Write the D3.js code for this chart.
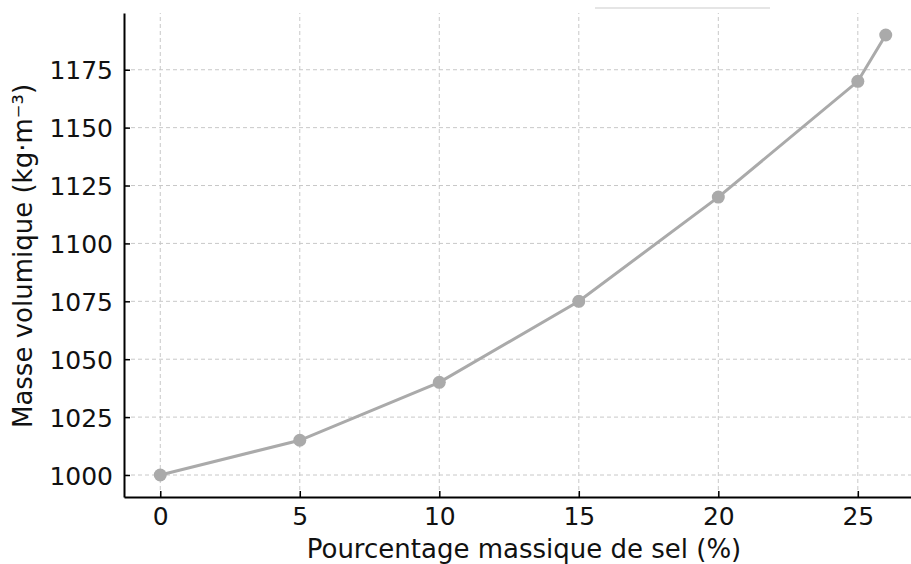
<!DOCTYPE html>
<html>
<head>
<meta charset="utf-8">
<script src="https://cdn.jsdelivr.net/npm/d3@7"></script>
<style>
  body { margin: 0; background: #fff; }
  svg { display: block; font-family: "DejaVu Sans", sans-serif; }
</style>
</head>
<body>
<svg id="chart" width="911" height="564"></svg>
<script>
// values
const saltPct = [0, 5, 10, 15, 20, 25, 26]
const density = [1000, 1015, 1040, 1075, 1120, 1170, 1190]
const xTicks = [0, 5, 10, 15, 20, 25]
const yTicks = [1000, 1025, 1050, 1075, 1100, 1125, 1150, 1175]

const width = 911
const height = 564
const margin = { top: 13, right: -11, bottom: 67, left: 124 }
const svg = d3.select('#chart')

const x = d3.scaleLinear()
    .domain([-1.3, 27.3])
    .range([margin.left, width - margin.right])

const y = d3.scaleLinear()
    .domain([990.5, 1199.5])
    .range([height - margin.bottom, margin.top])

// grid
const grid = svg.append('g')
    .attr('stroke', '#c8c8c8')
    .attr('stroke-width', 1)
    .attr('stroke-dasharray', '4,3')

grid.selectAll('.gx')
    .data(xTicks)
    .join('line')
    .attr('x1', d => x(d)).attr('x2', d => x(d))
    .attr('y1', y.range()[0]).attr('y2', y.range()[1])

grid.selectAll('.gy')
    .data(yTicks)
    .join('line')
    .attr('x1', x.range()[0]).attr('x2', width)
    .attr('y1', d => y(d)).attr('y2', d => y(d))

// faint stray line at the top
svg.append('line')
    .attr('x1', 595).attr('x2', 770)
    .attr('y1', 8).attr('y2', 8)
    .attr('stroke', '#dcdcdc')
    .attr('stroke-width', 1.5)

// axes, ticks pointing inward
const xAxis = svg.append('g')
    .attr('transform', `translate(0,${height - margin.bottom})`)
    .call(d3.axisBottom(x).tickValues(xTicks).tickSize(-6).tickPadding(10).tickSizeOuter(0))

const yAxis = svg.append('g')
    .attr('transform', `translate(${margin.left},0)`)
    .call(d3.axisLeft(y).tickValues(yTicks).tickFormat(d3.format('d'))
        .tickSize(-6).tickPadding(11).tickSizeOuter(0))

;[xAxis, yAxis].forEach(g => {
    g.attr('font-size', null).attr('font-family', null)
    g.select('.domain').attr('stroke', '#000').attr('stroke-width', 2)
    g.selectAll('.tick line').attr('stroke', '#000').attr('stroke-width', 1.5)
    g.selectAll('.tick text')
        .style('font-size', '25px')
        .attr('fill', '#111')
})
yAxis.selectAll('.tick text').attr('dy', '0.36em')

// labels
svg.append('text')
    .attr('x', 524)
    .attr('y', 558)
    .attr('text-anchor', 'middle')
    .style('font-size', '26px')
    .attr('fill', '#111')
    .text('Pourcentage massique de sel (%)')

svg.append('text')
    .attr('transform', `translate(32,256) rotate(-90)`)
    .attr('text-anchor', 'middle')
    .style('font-size', '26px')
    .attr('fill', '#111')
    .text('Masse volumique (kg·m⁻³)')

// series
const pts = saltPct.map((d, i) => ({ x: d, y: density[i] }))

svg.append('path')
    .datum(pts)
    .attr('fill', 'none')
    .attr('stroke', '#aaaaaa')
    .attr('stroke-width', 3)
    .attr('d', d3.line().x(d => x(d.x)).y(d => y(d.y)))

svg.selectAll('.dot')
    .data(pts)
    .join('circle')
    .attr('cx', d => x(d.x))
    .attr('cy', d => y(d.y))
    .attr('r', 6.5)
    .attr('fill', '#aaaaaa')
</script>
</body>
</html>
